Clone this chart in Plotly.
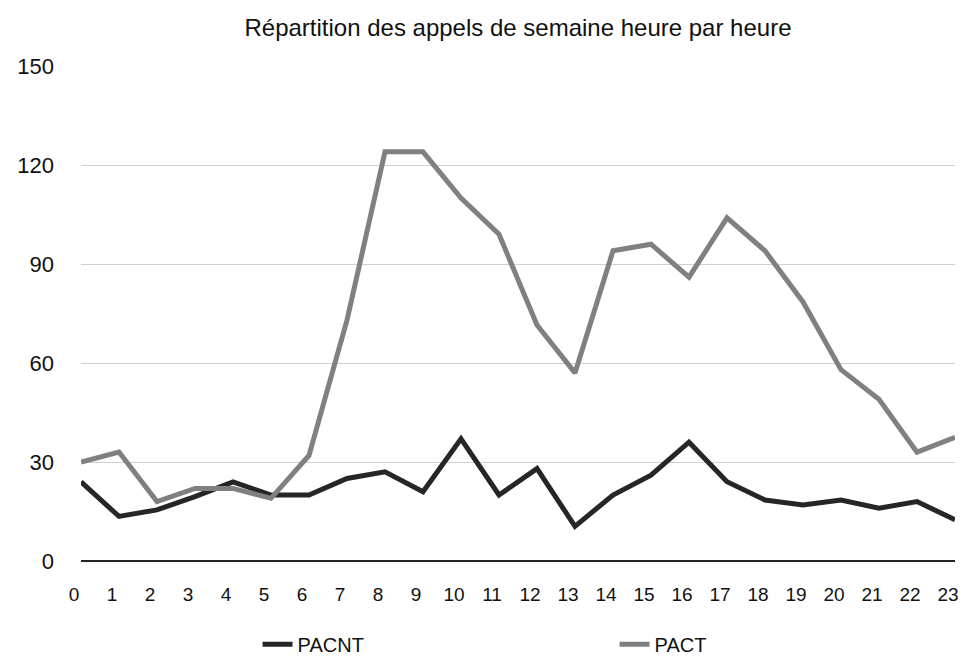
import plotly.graph_objects as go

hours = list(range(24))
hour_labels = [str(h) for h in hours]
pacnt = [24, 13.5, 15.5, 19.5, 24, 20, 20, 25, 27, 21, 37, 20, 28, 10.5, 20, 26, 36, 24, 18.5, 17, 18.5, 16, 18, 12.5]
pact = [30, 33, 18, 22, 22, 19, 32, 73, 124, 124, 110, 99, 71.5, 57, 94, 96, 86, 104, 94, 78.5, 58, 49, 33, 37.5]
y_ticks = [0, 30, 60, 90, 120, 150]
title_text = "Répartition des appels de semaine heure par heure"

FONT = "Liberation Sans, Arial, sans-serif"

# The page body has an 8px margin, so the figure is laid out 8px in from the window edge.
W, H = 958, 650

fig = go.Figure()
fig.add_trace(go.Scatter(x=hours, y=pacnt, name="PACNT", mode="lines",
                         line=dict(color="#262626", width=5), cliponaxis=False))
fig.add_trace(go.Scatter(x=hours, y=pact, name="PACT", mode="lines",
                         line=dict(color="#808080", width=5), cliponaxis=False))

fig.update_layout(
    width=W, height=H,
    margin=dict(l=73, r=11, t=58, b=97, autoexpand=False),
    paper_bgcolor="white", plot_bgcolor="white",
    font=dict(family=FONT, color="#111"),
    title=dict(text=title_text, x=0.5, xref="paper", xanchor="center",
               y=1 - 20 / H, yanchor="middle", font=dict(size=24, color="#111")),
    showlegend=True,
    legend=dict(orientation="h", x=0.202, xanchor="left", y=-0.168, yanchor="middle",
                font=dict(size=20, color="#111"), entrywidth=312, entrywidthmode="pixels",
                bgcolor="rgba(0,0,0,0)"),
    xaxis=dict(range=[0, 23], tickmode="array", tickvals=hours, ticktext=hour_labels,
               showgrid=False, zeroline=False, showline=False, ticks="",
               tickfont=dict(size=19, color="#111"), ticklabelstandoff=20,
               ticklabelshift=-7, ticklabeloverflow="allow"),
    yaxis=dict(range=[0, 150], tickmode="array", tickvals=y_ticks,
               showgrid=True, gridcolor="#cfcfcf", gridwidth=1,
               zeroline=True, zerolinecolor="#222", zerolinewidth=2,
               showline=False, ticks="", tickfont=dict(size=22, color="#111"),
               ticklabelstandoff=26),
)

fig.write_html("out.html")
